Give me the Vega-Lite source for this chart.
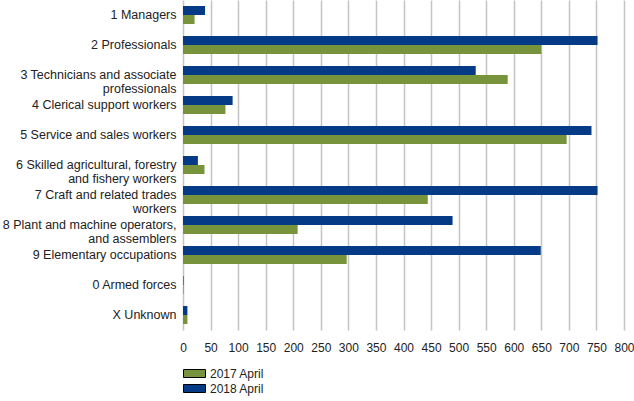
{
  "$schema": "https://vega.github.io/schema/vega-lite/v6.json",
  "width": 441,
  "height": 330,
  "autosize": "none",
  "padding": {"left": 183, "top": 0, "right": 10, "bottom": 71},
  "background": "white",
  "config": {
    "font": "Liberation Sans",
    "view": {"stroke": null}
  },
  "data": {
    "values": [
      {"cat": "1 Managers", "series": "2017 April", "value": 21},
      {"cat": "1 Managers", "series": "2018 April", "value": 40},
      {"cat": "2 Professionals", "series": "2017 April", "value": 650},
      {"cat": "2 Professionals", "series": "2018 April", "value": 752},
      {"cat": "3 Technicians and associate|professionals", "series": "2017 April", "value": 589},
      {"cat": "3 Technicians and associate|professionals", "series": "2018 April", "value": 531},
      {"cat": "4 Clerical support workers", "series": "2017 April", "value": 77},
      {"cat": "4 Clerical support workers", "series": "2018 April", "value": 90},
      {"cat": "5 Service and sales workers", "series": "2017 April", "value": 696},
      {"cat": "5 Service and sales workers", "series": "2018 April", "value": 741},
      {"cat": "6 Skilled agricultural, forestry|and fishery workers", "series": "2017 April", "value": 39},
      {"cat": "6 Skilled agricultural, forestry|and fishery workers", "series": "2018 April", "value": 27},
      {"cat": "7 Craft and related trades|workers", "series": "2017 April", "value": 444},
      {"cat": "7 Craft and related trades|workers", "series": "2018 April", "value": 752},
      {"cat": "8 Plant and machine operators,|and assemblers", "series": "2017 April", "value": 208},
      {"cat": "8 Plant and machine operators,|and assemblers", "series": "2018 April", "value": 489},
      {"cat": "9 Elementary occupations", "series": "2017 April", "value": 297},
      {"cat": "9 Elementary occupations", "series": "2018 April", "value": 649},
      {"cat": "0 Armed forces", "series": "2017 April", "value": 1},
      {"cat": "0 Armed forces", "series": "2018 April", "value": 1},
      {"cat": "X Unknown", "series": "2017 April", "value": 8},
      {"cat": "X Unknown", "series": "2018 April", "value": 8}
    ]
  },
  "mark": {"type": "bar"},
  "encoding": {
    "y": {
      "field": "cat",
      "type": "nominal",
      "sort": null,
      "scale": {"paddingInner": 0.4, "paddingOuter": 0.2},
      "axis": {
        "title": null,
        "domain": false,
        "ticks": false,
        "labelPadding": 7,
        "labelFontSize": 12.5,
        "labelColor": "#222222",
        "labelLineHeight": 14,
        "labelLimit": 200,
        "labelExpr": "split(datum.label, '|')"
      }
    },
    "yOffset": {"field": "series", "type": "nominal", "sort": "descending"},
    "x": {
      "field": "value",
      "type": "quantitative",
      "scale": {"domain": [0, 800], "nice": false},
      "axis": {
        "title": null,
        "values": [0,50,100,150,200,250,300,350,400,450,500,550,600,650,700,750,800],
        "domain": false,
        "ticks": false,
        "grid": true,
        "gridColor": "#c4c4c4",
        "gridWidth": 1.5,
        "labelPadding": 12,
        "labelFontSize": 12,
        "labelColor": "#222222",
        "labelFlush": false
      }
    },
    "color": {
      "field": "series",
      "type": "nominal",
      "scale": {"domain": ["2017 April", "2018 April"], "range": ["#77933c", "#043a86"]},
      "legend": {
        "title": null,
        "orient": "none",
        "legendX": 3,
        "legendY": 365,
        "symbolType": "M-1.375,-0.5H1.375V0.5H-1.375Z",
        "symbolSize": 256,
        "symbolStrokeColor": "#000000",
        "symbolStrokeWidth": 1,
        "labelFontSize": 12,
        "labelColor": "#222222",
        "rowPadding": 0,
        "labelOffset": 7
      }
    }
  }
}
